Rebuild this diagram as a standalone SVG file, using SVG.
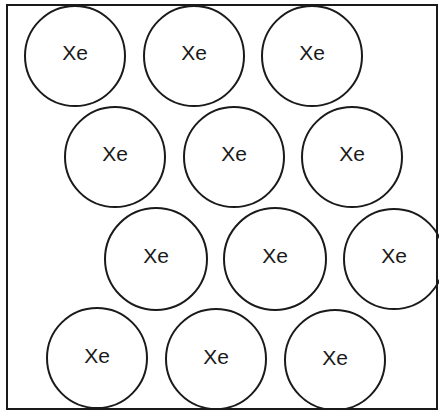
<svg xmlns="http://www.w3.org/2000/svg" width="439" height="410" viewBox="0 0 439 410">
<style>
.c{fill:none;stroke:#1a1a1a;stroke-width:2}
.t{font-family:"Liberation Sans",Arial,sans-serif;font-size:21px;fill:#1a1a1a;text-anchor:middle}
</style>
<rect x="0" y="0" width="439" height="410" fill="#fff"/>
<rect x="7" y="5" width="430" height="404" fill="none" stroke="#1a1a1a" stroke-width="2"/>
<g id="a1"><circle class="c" cx="75" cy="56" r="50"/><text class="t" x="75" y="60">Xe</text></g>
<g id="a2"><circle class="c" cx="194" cy="56" r="50"/><text class="t" x="194" y="60">Xe</text></g>
<g id="a3"><circle class="c" cx="312" cy="56" r="50"/><text class="t" x="312" y="60">Xe</text></g>
<g id="a4"><circle class="c" cx="115" cy="157" r="50"/><text class="t" x="115" y="161">Xe</text></g>
<g id="a5"><circle class="c" cx="234" cy="157" r="50"/><text class="t" x="234" y="161">Xe</text></g>
<g id="a6"><circle class="c" cx="352" cy="157" r="50"/><text class="t" x="352" y="161">Xe</text></g>
<g id="a7"><circle class="c" cx="156" cy="259" r="51"/><text class="t" x="156" y="263">Xe</text></g>
<g id="a8"><circle class="c" cx="275" cy="259" r="51"/><text class="t" x="275" y="263">Xe</text></g>
<g id="a9"><circle class="c" cx="394" cy="259" r="50"/><text class="t" x="394" y="263">Xe</text></g>
<g id="a10"><circle class="c" cx="97" cy="358" r="50"/><text class="t" x="97" y="363">Xe</text></g>
<g id="a11"><circle class="c" cx="216" cy="359" r="50"/><text class="t" x="216" y="364">Xe</text></g>
<g id="a12"><circle class="c" cx="335" cy="360" r="50"/><text class="t" x="335" y="365">Xe</text></g>
</svg>
